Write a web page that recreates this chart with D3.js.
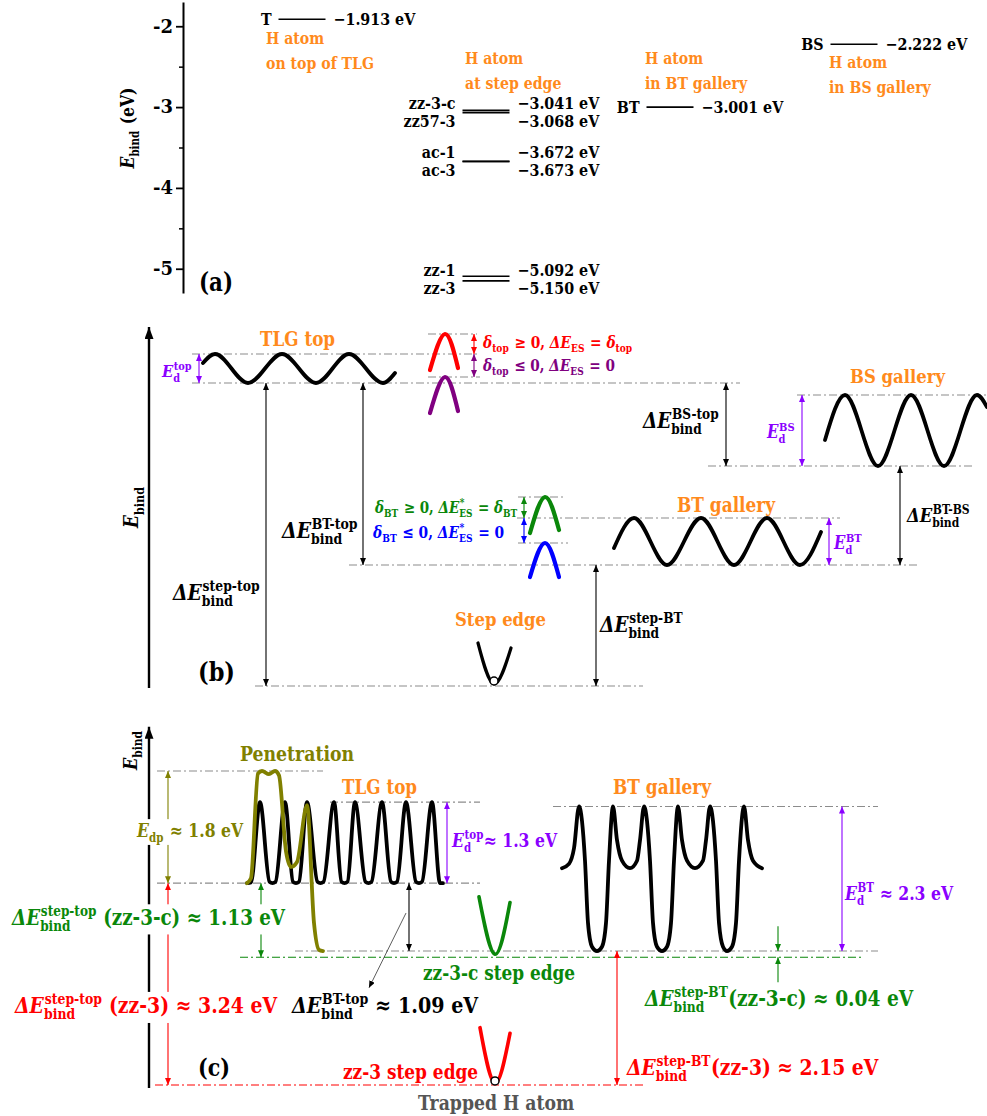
<!DOCTYPE html>
<html>
<head>
<meta charset="utf-8">
<script src="https://cdn.jsdelivr.net/npm/d3@7"></script>
<style>
body { margin: 0; background: #fff; }
svg { display: block; }
text { font-family: "DejaVu Serif", serif; font-weight: bold; white-space: pre; }
</style>
</head>
<body>
<div id="chart"></div>
<script>
let W = 987;
let H = 1116;

///////////////////////////////////////////////////////////////////////////
// DATA  panel (a): binding energy of the H atom at each site (eV)
const siteNames = ["T", "step", "BT", "BS"];
const siteCaptions = [["H atom", "on top of TLG"], ["H atom", "at step edge"], ["H atom", "in BT gallery"], ["H atom", "in BS gallery"]];
const levelNames = ["T", "zz-3-c", "zz57-3", "ac-1", "ac-3", "zz-1", "zz-3", "BT", "BS"];
const levelSites = ["T", "step", "step", "step", "step", "step", "step", "BT", "BS"];
const levelValues = [-1.913, -3.041, -3.068, -3.672, -3.673, -5.092, -5.150, -3.001, -2.222];
const yTicksA = [-2, -3, -4, -5];
const yMinorA = [-2.5, -3.5, -4.5];

// DATA  panel (b): schematic levels (arbitrary energy units) and profiles [reaction coord, E]
const tlgWaveB = [[20.3, 32.3], [21.5, 33.2], [24.8, 30.3], [28.2, 33.2], [31.6, 30.3], [34.9, 33.2], [38.3, 30.3], [39.5, 31.3]];
const btWaveB = [[61.4, 13.8], [63.4, 16.8], [66.7, 12.1], [70.1, 16.8], [73.4, 12.1], [76.7, 16.8], [80.0, 12.1], [82.1, 15.4]];
const bsWaveB = [[82.5, 24.6], [84.5, 29.1], [87.8, 22.0], [91.1, 29.1], [94.4, 22.0], [97.7, 29.1], [98.7, 27.9]];
const redBumpB = [[43.0, 31.6], [44.5, 35.2], [45.8, 31.8]];
const purpleBumpB = [[43.0, 27.3], [44.5, 30.9], [45.8, 27.5]];
const greenBumpB = [[53.0, 15.3], [54.5, 18.9], [55.9, 15.6]];
const blueBumpB = [[53.0, 10.9], [54.5, 14.3], [55.9, 10.9]];
const stepWellB = [[47.8, 4.3], [49.4, 0.2], [51.1, 3.8]];
// guide lines [E, x1, x2]
const guidesB = [[35.2, 42.8, 47.7], [33.2, 19.2, 48.0], [30.9, 42.8, 48.0], [30.3, 19.2, 74.0],
  [29.1, 79.7, 98.7], [22.0, 70.8, 97.3], [18.9, 51.8, 56.5], [16.8, 51.7, 84.0],
  [14.3, 51.8, 56.8], [12.1, 34.9, 91.8], [0, 25.5, 64.3]];
// arrows [x, E1, E2, colour]
const arrowsB = [[19.9, 33.2, 30.3, "violet"], [47.4, 35.2, 33.2, "red"], [47.4, 33.2, 30.9, "dpurple"],
  [26.6, 30.3, 0, "black"], [36.3, 30.3, 12.1, "black"], [72.6, 30.3, 22.0, "black"],
  [80.2, 29.1, 22.0, "violet"], [90.0, 22.0, 12.1, "black"], [52.4, 18.9, 16.8, "green"],
  [52.4, 16.8, 14.3, "blue"], [82.9, 16.8, 12.1, "violet"], [59.6, 12.1, 0, "black"]];

// DATA  panel (c): energies in eV, profiles [reaction coord, E]
const tlgProfileC = [[24.7, 3.24], [25.1, 3.25], [26.0, 4.54], [26.95, 3.26], [27.25, 3.24], [27.55, 3.26], [28.5, 4.54], [29.3, 3.26],
  [29.6, 3.24], [29.9, 3.26], [30.7, 4.54], [31.75, 3.26], [32.05, 3.24], [32.35, 3.26], [33.4, 4.54], [34.15, 3.26], [34.45, 3.24], [34.75, 3.26], [35.5, 4.54],
  [36.55, 3.26], [36.85, 3.24], [37.15, 3.26], [38.2, 4.54], [39.1, 3.26], [39.4, 3.24], [39.7, 3.26], [40.6, 4.54], [41.6, 3.26], [41.9, 3.24], [42.2, 3.26],
  [43.2, 4.54], [44.0, 3.24], [44.3, 3.24]];
const penetrationC = [[24.7, 3.24], [25.1, 3.32], [25.8, 5.0], [26.2, 5.04], [26.9, 4.99], [27.5, 5.04], [27.9, 4.97],
  [28.6, 3.75], [29.1, 3.50], [29.7, 3.58], [30.7, 4.49], [31.4, 2.6], [31.9, 2.17], [32.3, 2.15]];
const btProfileC = [[56.2, 3.48], [56.9, 3.55], [57.4, 3.80], [57.9, 4.47], [58.5, 3.6], [58.8, 2.6], [59.2, 2.22], [59.7, 2.15],
  [60.2, 2.22], [60.6, 2.6], [60.9, 3.6], [61.3, 4.47], [61.7, 3.93], [62.2, 3.6], [63.0, 3.48], [63.7, 3.6], [64.0, 3.93],
  [64.4, 4.47], [65.0, 3.6], [65.3, 2.6], [65.7, 2.22], [66.2, 2.15], [66.7, 2.22], [67.1, 2.6], [67.4, 3.6], [67.8, 4.47],
  [68.2, 3.93], [68.7, 3.6], [69.5, 3.48], [70.3, 3.6], [70.6, 3.93], [71.0, 4.47], [71.6, 3.6], [71.9, 2.6], [72.3, 2.22],
  [72.7, 2.15], [73.2, 2.22], [73.6, 2.6], [73.9, 3.6], [74.4, 4.47], [74.8, 3.93], [75.3, 3.6], [76.2, 3.48]];
const zz3cWellC = [[47.9, 3.02], [49.5, 2.10], [51.0, 2.93]];
const zz3WellC = [[48.0, 0.92], [49.5, 0.03], [51.0, 0.83]];
const guidesC = [[5.04, 15.7, 32.3, "gray"], [4.54, 33.0, 48.0, "gray"], [4.47, 55.3, 87.8, "gray"],
  [3.24, 15.7, 48.0, "gray"], [2.15, 29.5, 87.8, "gray"], [2.05, 24.0, 86.2, "green"], [0, 15.5, 64.3, "red"]];
const arrowsC = [[16.8, 5.04, 3.24, "olive"], [16.8, 3.24, 0, "red"], [26.1, 3.24, 2.05, "green"],
  [44.7, 4.54, 3.24, "violet"], [40.9, 3.24, 2.15, "black"], [84.2, 4.47, 2.15, "violet"], [61.7, 2.15, 0, "red"]];

///////////////////////////////////////////////////////////////////////////
const COL = {
  black: "#000", red: "#ff0000", green: "#0a870a", blue: "#0000ff", violet: "#8a00ff",
  dpurple: "#800080", olive: "#808000", orange: "#ff8a1c", gray: "#8c8c8c"
};
const COND = 0.85;   // squeeze DejaVu so it looks closer to the narrower original face

let svg = d3.select("#chart").append("svg").attr("width", W).attr("height", H);
svg.append("rect").attr("width", W).attr("height", H).attr("fill", "#fff");
let defs = svg.append("defs");

function marker(id, color, len, wid) {
  defs.append("marker")
    .attr("id", id)
    .attr("viewBox", "0 0 10 10")
    .attr("refX", 10).attr("refY", 5)
    .attr("markerWidth", len).attr("markerHeight", wid)
    .attr("markerUnits", "userSpaceOnUse")
    .attr("preserveAspectRatio", "none")
    .attr("orient", "auto-start-reverse")
    .append("path").attr("d", "M0,0L10,5L0,10z").attr("fill", color);
}
Object.keys(COL).forEach(k => marker("m-" + k, COL[k], 7, 6));
marker("m-axis", "#000", 12, 9);

// text made of pieces: "plain", {i:"italic"}, {sup:"..", sub:".."}
function rich(g, pieces, o) {
  let size = o.size || 16;
  let outer = g.append("g").attr("fill", COL[o.color] || o.color || "#000");
  let grp = outer.append("g").attr("transform", "scale(" + COND + ",1)");
  function draw(s) {
    grp.selectAll("*").remove();
    let cx = 0;
    pieces.forEach(p => {
      if (typeof p === "string" || p.i) {
        let t = grp.append("text").attr("xml:space", "preserve")
          .attr("x", cx).attr("y", 0).attr("font-size", s)
          .text(typeof p === "string" ? p : p.i);
        if (p.i) t.attr("font-style", "italic");
        cx += t.node().getComputedTextLength();
      } else {
        let ss = s * 0.66, w = 0;
        if (p.sup) {
          let t = grp.append("text").attr("x", cx + s * 0.04).attr("y", -s * 0.42).attr("font-size", ss).text(p.sup);
          w = t.node().getComputedTextLength();
        }
        if (p.sub) {
          let t = grp.append("text").attr("x", cx).attr("y", s * 0.27).attr("font-size", ss).text(p.sub);
          w = Math.max(w, t.node().getComputedTextLength());
        }
        cx += w + s * 0.06;
      }
    });
    return cx;
  }
  let w = draw(size);
  if (o.w) { size = size * o.w / (w * COND); w = draw(size); }
  if (o.bg) {
    grp.insert("rect", ":first-child").attr("x", -3).attr("y", -size * 0.95)
      .attr("width", w + 6).attr("height", size * 1.4).attr("fill", "#fff");
  }
  let base = size * 0.36;
  let ww = w * COND;
  if (o.rotate) {
    outer.attr("transform", "translate(" + o.x + "," + o.y + ") rotate(-90) translate(" + (-ww / 2) + "," + base + ")");
  } else {
    let dx = o.anchor == "end" ? -ww : (o.anchor == "middle" ? -ww / 2 : 0);
    outer.attr("transform", "translate(" + (o.x + dx) + "," + (o.y + base) + ")");
  }
  return outer;
}

function dE(sup) { return [{i: "ΔE"}, {sup: sup, sub: "bind"}]; }

///////////////////////////////////////////////////////////////////////////
// PANEL (a)
let ga = svg.append("g");
let yA = d3.scaleLinear().domain([-1.7, -5.3]).range([2, 293]);
let xA = d3.scalePoint().domain(siteNames).range([302, 854]);
let halfW = 23.5;

ga.append("g")
  .attr("transform", "translate(183,0)")
  .call(d3.axisLeft(yA).tickValues(yTicksA).tickSize(7).tickSizeOuter(0).tickFormat(d => String(d)))
  .call(g => g.select(".domain").attr("stroke-width", 2))
  .call(g => g.selectAll(".tick line").attr("stroke-width", 1.8))
  .call(g => g.selectAll(".tick text").attr("font-size", 18).attr("font-family", "DejaVu Serif").attr("font-weight", "bold").attr("x", -10));
ga.append("g")
  .attr("transform", "translate(183,0)")
  .call(d3.axisLeft(yA).tickValues(yMinorA).tickSize(4).tickSizeOuter(0).tickFormat(""))
  .call(g => g.select(".domain").remove())
  .call(g => g.selectAll(".tick line").attr("stroke-width", 1.5));

rich(ga, [{i: "E"}, {sub: "bind"}, " (eV)"], {x: 127, y: 128, w: 81, rotate: true});
rich(ga, ["(a)"], {x: 199, y: 282, w: 34});

let stepIdx = levelSites.map((s, i) => s == "step" ? i : -1).filter(i => i >= 0);
let fmt = d3.format(".3f");
levelNames.forEach(function (nm, i) {
  let cx = xA(levelSites[i]);
  let y = yA(levelValues[i]);
  ga.append("line")
    .attr("x1", cx - halfW).attr("x2", cx + halfW)
    .attr("y1", y).attr("y2", y)
    .attr("stroke", "#000").attr("stroke-width", 1.6);
  let ly = y;
  if (levelSites[i] == "step") {
    let j = stepIdx.indexOf(i);
    let partner = j % 2 == 0 ? stepIdx[j + 1] : stepIdx[j - 1];
    let mid = (y + yA(levelValues[partner])) / 2;
    ly = mid + (j % 2 == 0 ? -9 : 9);
  }
  rich(ga, [nm], {x: cx - halfW - 7, y: ly, size: 16.8, anchor: "end"});
  rich(ga, [fmt(levelValues[i]) + " eV"], {x: cx + halfW + 8, y: ly, size: 16.8});
});

let captionPos = [[266, 38], [465, 58], [645, 58], [829, 62]];
siteNames.forEach(function (s, i) {
  siteCaptions[i].forEach(function (line, k) {
    rich(ga, [line], {x: captionPos[i][0], y: captionPos[i][1] + 25 * k, size: 16.6, color: "orange"});
  });
});

///////////////////////////////////////////////////////////////////////////
// shared helpers for (b) and (c)
let xR = d3.scaleLinear().domain([0, 98.7]).range([0, 987]);

function guide(g, y, x1, x2, color) {
  g.append("line")
    .attr("x1", xR(x1)).attr("x2", xR(x2)).attr("y1", y).attr("y2", y)
    .attr("stroke", COL[color]).attr("stroke-width", 1.1)
    .attr("stroke-dasharray", "8,3,2,3");
}
function arrow(g, x, y1, y2, color, both) {
  let l = g.append("line")
    .attr("x1", x).attr("x2", x).attr("y1", y1).attr("y2", y2)
    .attr("stroke", COL[color]).attr("stroke-width", 1.1)
    .attr("marker-end", "url(#m-" + color + ")");
  if (both) l.attr("marker-start", "url(#m-" + color + ")");
}
function profile(g, pts, y, color, width, curve) {
  g.append("path")
    .datum(pts)
    .attr("d", d3.line().x(d => xR(d[0])).y(d => y(d[1])).curve(curve))
    .attr("fill", "none").attr("stroke", COL[color])
    .attr("stroke-width", width).attr("stroke-linecap", "round").attr("stroke-linejoin", "round");
}

///////////////////////////////////////////////////////////////////////////
// PANEL (b)
let gb = svg.append("g");
let yB = d3.scaleLinear().domain([0, 36]).range([686, 326]);

gb.append("line").attr("x1", 149).attr("x2", 149).attr("y1", yB(-0.2)).attr("y2", yB(35.9))
  .attr("stroke", "#000").attr("stroke-width", 2.4).attr("marker-end", "url(#m-axis)");
rich(gb, [{i: "E"}, {sub: "bind"}], {x: 131, y: 507, w: 42, rotate: true});

guidesB.forEach(d => guide(gb, yB(d[0]), d[1], d[2], "gray"));
arrowsB.forEach(d => arrow(gb, xR(d[0]), yB(d[1]), yB(d[2]), d[3], true));

profile(gb, tlgWaveB, yB, "black", 3.8, d3.curveMonotoneX);
profile(gb, btWaveB, yB, "black", 3.8, d3.curveMonotoneX);
profile(gb, bsWaveB, yB, "black", 3.8, d3.curveMonotoneX);
profile(gb, redBumpB, yB, "red", 4.2, d3.curveNatural);
profile(gb, purpleBumpB, yB, "dpurple", 4.2, d3.curveNatural);
profile(gb, greenBumpB, yB, "green", 4.2, d3.curveNatural);
profile(gb, blueBumpB, yB, "blue", 4.2, d3.curveNatural);
profile(gb, stepWellB, yB, "black", 3.2, d3.curveNatural);
gb.append("circle").attr("cx", xR(stepWellB[1][0])).attr("cy", yB(0.5)).attr("r", 4)
  .attr("fill", "#fff").attr("stroke", "#000").attr("stroke-width", 1.5);

rich(gb, ["TLG top"], {x: 260, y: 339, w: 75, color: "orange"});
rich(gb, ["BS gallery"], {x: 850, y: 376, w: 95, color: "orange"});
rich(gb, ["BT gallery"], {x: 677, y: 505, w: 98, color: "orange"});
rich(gb, ["Step edge"], {x: 455, y: 619, w: 91, color: "orange"});
rich(gb, [{i: "E"}, {sup: "top", sub: "d"}], {x: 162, y: 371, w: 30, color: "violet"});
rich(gb, [{i: "δ"}, {sub: "top"}, " ≥ 0, ", {i: "ΔE"}, {sub: "ES"}, " = ", {i: "δ"}, {sub: "top"}], {x: 483, y: 342, w: 150, color: "red"});
rich(gb, [{i: "δ"}, {sub: "top"}, " ≤ 0, ", {i: "ΔE"}, {sub: "ES"}, " = 0"], {x: 483, y: 365, w: 132, color: "dpurple"});
rich(gb, [{i: "δ"}, {sub: "BT"}, " ≥ 0, ", {i: "ΔE"}, {sup: "*", sub: "ES"}, " = ", {i: "δ"}, {sub: "BT"}], {x: 375, y: 507, w: 143, color: "green"});
rich(gb, [{i: "δ"}, {sub: "BT"}, " ≤ 0, ", {i: "ΔE"}, {sup: "*", sub: "ES"}, " = 0"], {x: 373, y: 532, w: 131, color: "blue"});
rich(gb, dE("BT-top"), {x: 282, y: 530, w: 76});
rich(gb, dE("step-top"), {x: 173, y: 592, w: 87});
rich(gb, dE("BS-top"), {x: 643, y: 420, w: 76});
rich(gb, [{i: "E"}, {sup: "BS", sub: "d"}], {x: 767, y: 432, w: 28, color: "violet"});
rich(gb, [{i: "E"}, {sup: "BT", sub: "d"}], {x: 834, y: 543, w: 28, color: "violet"});
rich(gb, dE("BT-BS"), {x: 907, y: 515, w: 63});
rich(gb, dE("step-BT"), {x: 600, y: 624, w: 83});
rich(gb, ["(b)"], {x: 198, y: 671, w: 37});

///////////////////////////////////////////////////////////////////////////
// PANEL (c)
let gc = svg.append("g");
let yC = d3.scaleLinear().domain([0, 5]).range([1085, 773.5]);

gc.append("line").attr("x1", 149).attr("x2", 149).attr("y1", yC(-0.05)).attr("y2", yC(5.75))
  .attr("stroke", "#000").attr("stroke-width", 2.4).attr("marker-end", "url(#m-axis)");
rich(gc, [{i: "E"}, {sub: "bind"}], {x: 130, y: 750, w: 40, rotate: true});

guidesC.forEach(d => guide(gc, yC(d[0]), d[1], d[2], d[3]));
arrowsC.forEach(d => arrow(gc, xR(d[0]), yC(d[1]), yC(d[2]), d[3], true));
arrow(gc, xR(77.8), yC(2.55), yC(2.15), "green", false);
arrow(gc, xR(77.8), yC(1.65), yC(2.05), "green", false);
gc.append("line").attr("x1", xR(40.6)).attr("y1", yC(2.76)).attr("x2", xR(36.9)).attr("y2", yC(1.56))
  .attr("stroke", "#333").attr("stroke-width", 0.8).attr("marker-end", "url(#m-black)");

profile(gc, tlgProfileC, yC, "black", 3.8, d3.curveMonotoneX);
profile(gc, penetrationC, yC, "olive", 3.8, d3.curveMonotoneX);
profile(gc, btProfileC, yC, "black", 3.8, d3.curveMonotoneX);
profile(gc, zz3cWellC, yC, "green", 3.6, d3.curveNatural);
profile(gc, zz3WellC, yC, "red", 3.6, d3.curveNatural);
gc.append("circle").attr("cx", xR(zz3WellC[1][0])).attr("cy", yC(0.065)).attr("r", 4)
  .attr("fill", "#fff").attr("stroke", "#000").attr("stroke-width", 1.5);

rich(gc, ["Penetration"], {x: 240, y: 754, w: 114, color: "olive"});
rich(gc, ["TLG top"], {x: 342, y: 787, w: 75, color: "orange"});
rich(gc, ["BT gallery"], {x: 613, y: 787, w: 98, color: "orange"});
rich(gc, [{i: "E"}, {sub: "dp"}, " ≈ 1.8 eV"], {x: 137, y: 830, w: 106, color: "olive", bg: true});
rich(gc, [{i: "E"}, {sup: "top", sub: "d"}, "≈ 1.3 eV"], {x: 452, y: 840, w: 105, color: "violet"});
rich(gc, [{i: "E"}, {sup: "BT", sub: "d"}, " ≈ 2.3 eV"], {x: 845, y: 893, w: 108, color: "violet"});
rich(gc, dE("step-top").concat([" (zz-3-c) ≈ 1.13 eV"]), {x: 12, y: 917, w: 273, color: "green", bg: true});
rich(gc, ["zz-3-c step edge"], {x: 423, y: 973, w: 152, color: "green"});
rich(gc, dE("step-BT").concat(["(zz-3-c) ≈ 0.04 eV"]), {x: 645, y: 998, w: 268, color: "green"});
rich(gc, dE("step-top").concat([" (zz-3) ≈ 3.24 eV"]), {x: 15, y: 1005, w: 262, color: "red", bg: true});
rich(gc, dE("BT-top").concat([" ≈ 1.09 eV"]), {x: 292, y: 1005, w: 186});
rich(gc, ["(c)"], {x: 198, y: 1067, w: 32});
rich(gc, ["zz-3 step edge"], {x: 343, y: 1072, w: 135, color: "red"});
rich(gc, dE("step-BT").concat(["(zz-3) ≈ 2.15 eV"]), {x: 627, y: 1067, w: 251, color: "red"});
rich(gc, ["Trapped H atom"], {x: 418, y: 1103, w: 156, color: "#555"});
</script>
</body>
</html>
